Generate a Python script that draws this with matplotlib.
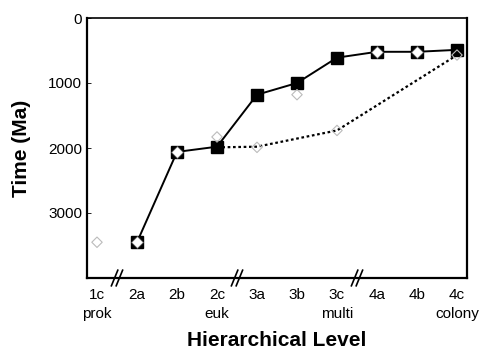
import matplotlib
matplotlib.use('Agg')
import matplotlib.pyplot as plt
import matplotlib.transforms as mtransforms

plt.rcParams['font.family'] = ['Liberation Sans', 'DejaVu Sans']

levels = ['1c\nprok', '2a', '2b', '2c\neuk', '3a', '3b', '3c\nmulti', '4a', '4b', '4c\ncolony']

# solid series (first appearance), index into levels
solid_x = [1, 2, 3, 4, 5, 6, 7, 8, 9]
solid_y = [3450, 2060, 1980, 1180, 1000, 610, 520, 520, 490]
solid_open = [True, True, False, False, False, False, True, True, False]

# dotted series
dot_x = [3, 4, 6, 9]
dot_y = [1990, 1980, 1730, 570]

# grey alternative estimates
alt_x = [0, 3, 4, 5, 6, 9]
alt_y = [3450, 1830, 1990, 1180, 1730, 570]

breaks = [0.5, 3.5, 6.5]

fig = plt.figure(figsize=(4.8, 3.49), dpi=100)
ax = fig.add_axes([87 / 480, 1 - 278 / 349, 380 / 480, 260 / 349])

ax.plot(dot_x, dot_y, color='black', linestyle=(0, (1.2, 1.2)), linewidth=1.6, zorder=2)
ax.plot(solid_x, solid_y, color='black', linewidth=1.4, zorder=3)

for x, y, op in zip(solid_x, solid_y, solid_open):
    ax.plot(x, y, marker='s', markersize=9, color='black', zorder=4)
    if op:
        ax.plot(x, y, marker='D', markersize=6, markerfacecolor='white',
                markeredgecolor='#555555', markeredgewidth=0.6, zorder=5)

ax.scatter(alt_x, alt_y, marker='D', s=28, facecolors='none',
           edgecolors='#bbbbbb', linewidths=0.8, zorder=6)

ax.set_xlim(-0.25, 9.25)
ax.set_ylim(4000, 0)
ax.set_yticks([0, 1000, 2000, 3000])
ax.set_xticks(range(len(levels)))
ax.set_xticklabels(levels, fontsize=11, linespacing=1.5)
ax.tick_params(axis='y', labelsize=11, direction='in', length=3, width=0.6)
ax.tick_params(axis='x', direction='in', length=0, pad=7)

for side in ['left', 'bottom', 'right']:
    ax.spines[side].set_linewidth(1.6)
ax.spines['top'].set_linewidth(1.2)

# axis break marks
trans = mtransforms.blended_transform_factory(ax.transData, ax.transAxes)
for bx in breaks:
    for dx in (-0.06, 0.06):
        ax.plot([bx + dx - 0.08, bx + dx + 0.08], [-0.03, 0.03], color='black',
                linewidth=1.2, transform=trans, clip_on=False, zorder=7)

fig.text(277 / 480, 1 - 346 / 349, 'Hierarchical Level', fontsize=15,
         fontweight='bold', ha='center', va='baseline')
ax.set_ylabel('Time (Ma)', fontsize=15, fontweight='bold', labelpad=12)

fig.savefig('out.png', dpi=100)
